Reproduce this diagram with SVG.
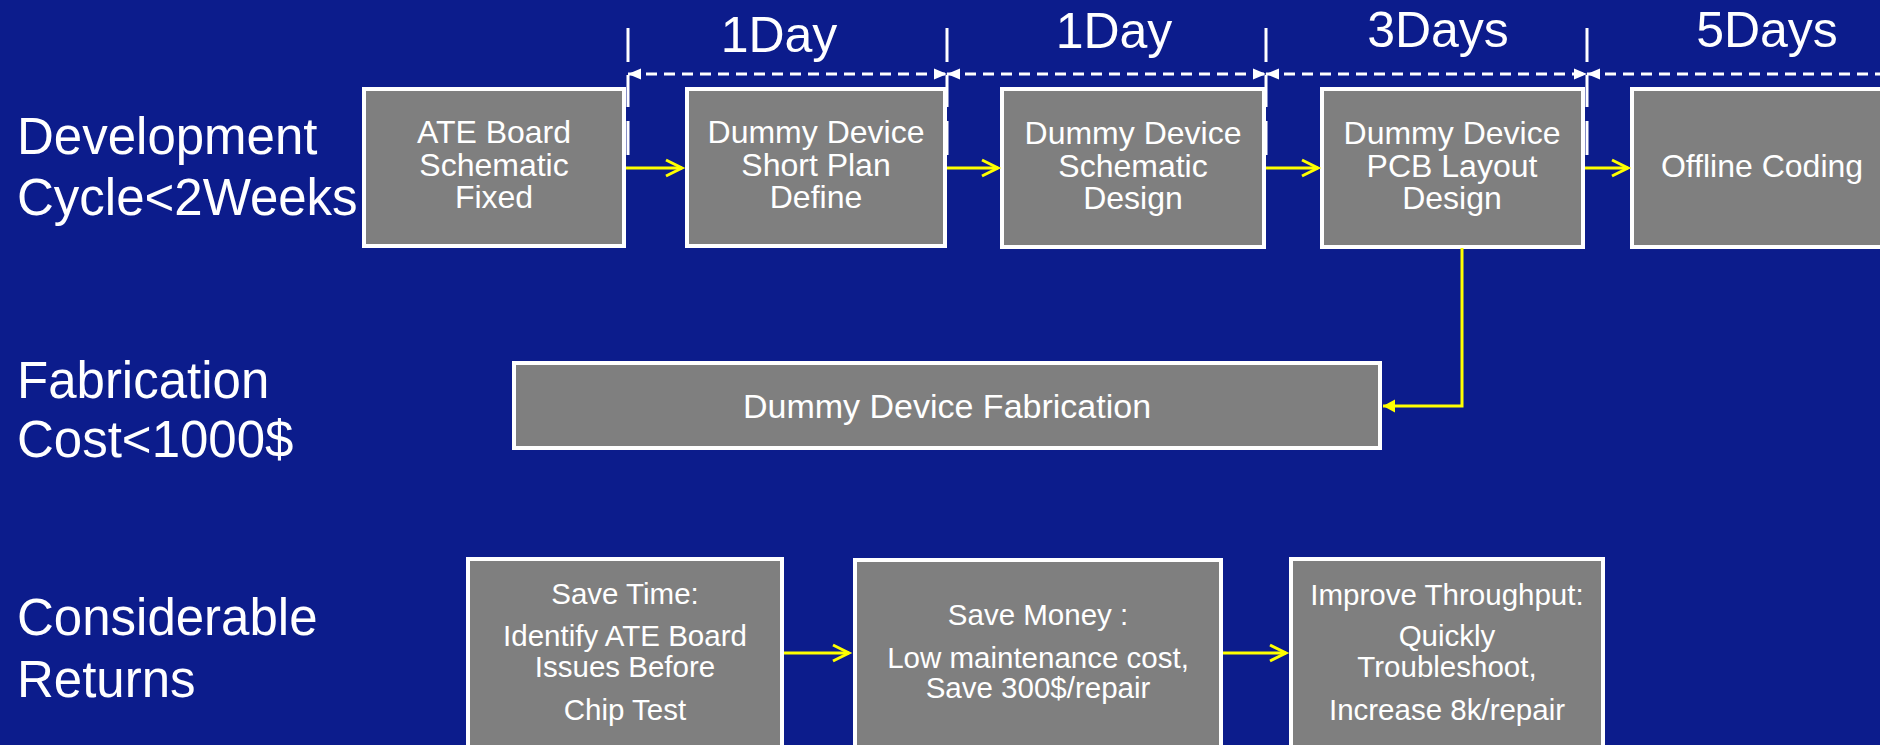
<svg xmlns="http://www.w3.org/2000/svg" width="1880" height="745" viewBox="0 0 1880 745">
  <defs>
    <style>
      .bg { fill: #0c1c8c; }
      .box { fill: #7f7f7f; stroke: #ffffff; stroke-width: 4; }
      .lbl { font-family: "Liberation Sans", Arial, sans-serif; fill: #ffffff; }
      .side { font-size: 51px; }
      .dur { font-size: 50px; text-anchor: middle; }
      .btxt { font-size: 32px; text-anchor: middle; }
      .ftxt { font-size: 34px; text-anchor: middle; }
      .stxt { font-size: 29.5px; text-anchor: middle; }
      .tick { stroke: #ffffff; stroke-width: 3; fill: none; }
      .ext { stroke: #ffffff; stroke-width: 3; fill: none; stroke-dasharray: 32 14 34 200; }
      .dim { stroke: #ffffff; stroke-width: 3; fill: none; stroke-dasharray: 11 7; marker-start: url(#dimHead); marker-end: url(#dimHead); }
      .flow { stroke: #ffff00; stroke-width: 3; fill: none; marker-end: url(#chevron); }
      .feed { stroke: #ffff00; stroke-width: 3; fill: none; marker-end: url(#solidHead); }
    </style>
    <marker id="dimHead" markerUnits="userSpaceOnUse" markerWidth="13" markerHeight="11" refX="13" refY="5.5" orient="auto-start-reverse" overflow="visible">
      <path d="M0,0 L13,5.5 L0,11 Z" fill="#ffffff"/>
    </marker>
    <marker id="chevron" markerUnits="userSpaceOnUse" markerWidth="18" markerHeight="18" refX="16" refY="8" orient="auto" overflow="visible">
      <path d="M0,0 L16,8 L0,16" fill="none" stroke="#ffff00" stroke-width="3"/>
    </marker>
    <marker id="solidHead" markerUnits="userSpaceOnUse" markerWidth="13" markerHeight="13" refX="12" refY="6.5" orient="auto" overflow="visible">
      <path d="M0,0 L12,6.5 L0,13 Z" fill="#ffff00"/>
    </marker>
  </defs>

  <rect class="bg" x="0" y="0" width="1880" height="745"/>

  <!-- Row captions -->
  <g id="captions" class="lbl side">
    <text x="17" y="154">Development<tspan x="17" dy="61">Cycle&lt;2Weeks</tspan></text>
    <text x="17" y="398">Fabrication<tspan x="17" dy="59">Cost&lt;1000$</tspan></text>
    <text x="17" y="635">Considerable<tspan x="17" dy="62">Returns</tspan></text>
  </g>

  <!-- Duration labels above the timeline -->
  <g id="durations" class="lbl dur">
    <text x="779" y="52">1Day</text>
    <text x="1114" y="48">1Day</text>
    <text x="1438" y="47">3Days</text>
    <text x="1767" y="47">5Days</text>
  </g>

  <!-- Development steps -->
  <g id="ate-board">
    <rect class="box" x="364" y="89" width="260" height="157"/>
    <text class="lbl btxt" x="494" y="143">ATE Board<tspan x="494" dy="33">Schematic</tspan><tspan x="494" dy="32">Fixed</tspan></text>
  </g>
  <g id="short-plan">
    <rect class="box" x="687" y="89" width="258" height="157"/>
    <text class="lbl btxt" x="816" y="143">Dummy Device<tspan x="816" dy="33">Short Plan</tspan><tspan x="816" dy="32">Define</tspan></text>
  </g>
  <g id="schematic-design">
    <rect class="box" x="1002" y="89" width="262" height="158"/>
    <text class="lbl btxt" x="1133" y="144">Dummy Device<tspan x="1133" dy="33">Schematic</tspan><tspan x="1133" dy="32">Design</tspan></text>
  </g>
  <g id="pcb-layout">
    <rect class="box" x="1322" y="89" width="261" height="158"/>
    <text class="lbl btxt" x="1452" y="144">Dummy Device<tspan x="1452" dy="33">PCB Layout</tspan><tspan x="1452" dy="32">Design</tspan></text>
  </g>
  <g id="offline-coding">
    <rect class="box" x="1632" y="89" width="270" height="158"/>
    <text class="lbl btxt" x="1762" y="177">Offline Coding</text>
  </g>

  <!-- Fabrication -->
  <g id="fabrication">
    <rect class="box" x="514" y="363" width="866" height="85"/>
    <text class="lbl ftxt" x="947" y="418">Dummy Device Fabrication</text>
  </g>

  <!-- Returns -->
  <g id="save-time">
    <rect class="box" x="468" y="559" width="314" height="200"/>
    <text class="lbl stxt" x="625" y="604">Save Time:<tspan x="625" dy="42">Identify ATE Board</tspan><tspan x="625" dy="31">Issues Before</tspan><tspan x="625" dy="43">Chip Test</tspan></text>
  </g>
  <g id="save-money">
    <rect class="box" x="855" y="560" width="366" height="200"/>
    <text class="lbl stxt" x="1038" y="625">Save Money :<tspan x="1038" dy="43">Low maintenance cost,</tspan><tspan x="1038" dy="30">Save 300$/repair</tspan></text>
  </g>
  <g id="throughput">
    <rect class="box" x="1291" y="559" width="312" height="200"/>
    <text class="lbl stxt" x="1447" y="605">Improve Throughput:<tspan x="1447" dy="41">Quickly</tspan><tspan x="1447" dy="31">Troubleshoot,</tspan><tspan x="1447" dy="43">Increase 8k/repair</tspan></text>
  </g>

  <!-- Connectors and timeline -->
  <g id="connectors">
    <!-- timeline ticks -->
    <line class="tick" x1="628" y1="28" x2="628" y2="62"/>
    <line class="tick" x1="947" y1="28" x2="947" y2="62"/>
    <line class="tick" x1="1266" y1="28" x2="1266" y2="62"/>
    <line class="tick" x1="1587" y1="28" x2="1587" y2="62"/>
    <!-- extension lines down to the steps -->
    <line class="ext" x1="628" y1="75" x2="628" y2="156"/>
    <line class="ext" x1="947" y1="75" x2="947" y2="156"/>
    <line class="ext" x1="1266" y1="75" x2="1266" y2="156"/>
    <line class="ext" x1="1587" y1="75" x2="1587" y2="178"/>
    <!-- dimension lines -->
    <line class="dim" x1="628" y1="74" x2="947" y2="74"/>
    <line class="dim" x1="947" y1="74" x2="1266" y2="74"/>
    <line class="dim" x1="1266" y1="74" x2="1587" y2="74"/>
    <line class="dim" x1="1587" y1="74" x2="1900" y2="74"/>
    <!-- step flow -->
    <line class="flow" x1="626" y1="168" x2="682" y2="168"/>
    <line class="flow" x1="947" y1="168" x2="998" y2="168"/>
    <line class="flow" x1="1266" y1="168" x2="1318" y2="168"/>
    <line class="flow" x1="1585" y1="168" x2="1628" y2="168"/>
    <!-- layout to fabrication -->
    <polyline class="feed" points="1462,248 1462,406 1383,406"/>
    <!-- returns flow -->
    <line class="flow" x1="784" y1="653" x2="849" y2="653"/>
    <line class="flow" x1="1223" y1="653" x2="1286" y2="653"/>
  </g>
</svg>
